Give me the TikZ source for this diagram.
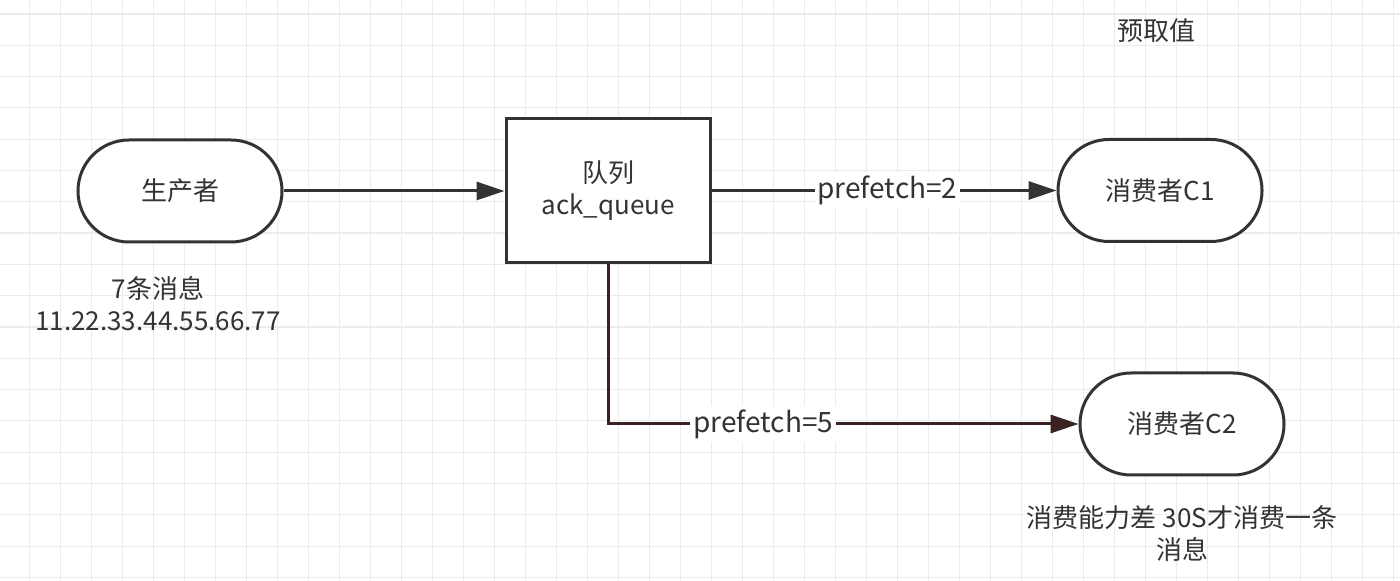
\documentclass[tikz,border=0pt]{standalone}
\usepackage{fontspec}
\setmainfont{Noto Sans CJK SC}
\usetikzlibrary{arrows.meta}
\definecolor{ink}{HTML}{333333}
\definecolor{gridc}{HTML}{EBEBEB}
\definecolor{brown}{HTML}{3A2222}
\tikzset{
  gridline/.style={draw=gridc, line width=0.6pt},
  term/.style={draw=ink, line width=1.5pt, rounded corners=25.5pt, minimum width=102pt, minimum height=51pt, fill=white, text=ink, font=\fontsize{13}{16}\selectfont},
  qbox/.style={draw=ink, line width=1.5pt, minimum width=102pt, minimum height=72pt, fill=white, text=ink, align=center, font=\fontsize{13}{16}\selectfont},
  conn/.style={draw=ink, line width=1.5pt, -{Triangle[length=14pt,width=9pt]}},
  elabel/.style={fill=white, text=ink, inner sep=1.5pt, font=\fontsize{14}{16}\selectfont},
  note/.style={text=ink, align=center, font=\fontsize{13}{16}\selectfont}
}
\begin{document}
\begin{tikzpicture}[x=0.5pt,y=-0.5pt]
\useasboundingbox (0,0) rectangle (1400,581);
\fill[white] (0,0) rectangle (1400,581);
\foreach \k in {0,...,44} { \draw[gridline] ({29.3+31*\k},0) -- ({29.3+31*\k},581); }
\foreach \k in {0,...,18} { \draw[gridline] (0,{14+31.3*\k}) -- (1400,{14+31.3*\k}); }

\node[term] (prod) at (180,191) {生产者};
\node[qbox] (queue) at (608,190.5) {队列\\ack\_queue};
\node[term] (c1) at (1160,190.5) {消费者C1};
\node[term] (c2) at (1182,424) {消费者C2};

\node[note] (pre) at (1156,31) {预取值};
\node[note] (msg) at (158,304) {7条消息\\11.22.33.44.55.66.77};
\node[note] (slow) at (1182,534) {消费能力差 30S才消费一条\\消息};

\draw[conn] (prod.east) -- (queue.west |- prod.east);
\draw[conn] (queue.east |- c1.west) -- node[elabel, pos=0.51] {prefetch=2} (c1.west);
\coordinate (bend) at (queue.south |- c2.west);
\draw[conn, draw=brown] (queue.south) -- (bend) -- node[elabel, pos=0.33] {prefetch=5} (c2.west);
\end{tikzpicture}
\end{document}
